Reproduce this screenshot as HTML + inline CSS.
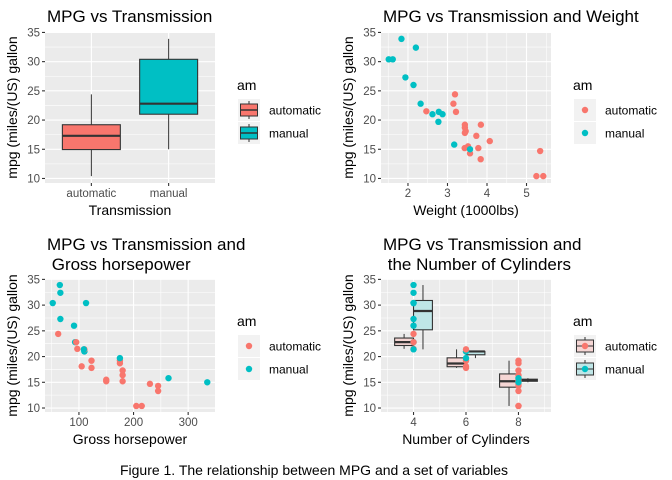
<!DOCTYPE html>
<html><head><meta charset="utf-8">
<style>
html,body{margin:0;padding:0;background:#fff;}
svg{display:block;font-family:"Liberation Sans",Arial,sans-serif;}
.tk{font-size:11.5px;fill:#4d4d4d;}
.at{font-size:14px;fill:#000;}
.tt{font-size:17px;fill:#000;white-space:pre;}
.lg{font-size:12px;fill:#000;}
</style></head>
<body>
<svg id="fig" width="672" height="480" viewBox="0 0 672 480" xmlns="http://www.w3.org/2000/svg">
<text x="314" y="475" text-anchor="middle" style="font-size:14px">Figure 1. The relationship between MPG and a set of variables</text>
</svg>
<script>
// mtcars data
const mpg = [21.0,21.0,22.8,21.4,18.7,18.1,14.3,24.4,22.8,19.2,17.8,16.4,17.3,15.2,10.4,10.4,14.7,32.4,30.4,33.9,21.5,15.5,15.2,13.3,19.2,27.3,26.0,30.4,15.8,19.7,15.0,21.4];
const cyl = [6,6,4,6,8,6,8,4,4,6,6,8,8,8,8,8,8,4,4,4,4,8,8,8,8,4,4,4,8,6,8,4];
const hp = [110,110,93,110,175,105,245,62,95,123,123,180,180,180,205,215,230,66,52,65,97,150,150,245,175,66,91,113,264,175,335,109];
const wt = [2.620,2.875,2.320,3.215,3.440,3.460,3.570,3.190,3.150,3.440,3.440,4.070,3.730,3.780,5.250,5.424,5.345,2.200,1.615,1.835,2.465,3.520,3.435,3.840,3.845,1.935,2.140,1.513,3.170,2.770,3.570,2.780];
const am = [1,1,1,0,0,0,0,0,0,0,0,0,0,0,0,0,0,1,1,1,0,0,0,0,0,1,1,1,1,1,1,1];
const amLabels = ["automatic","manual"];
const yTicks = [10,15,20,25,30,35];
const wtTicks = [2,3,4,5];
const hpTicks = [100,200,300];
const cylTicks = [4,6,8];

const NS="http://www.w3.org/2000/svg";
const svg=document.getElementById('fig');
const COL=["#F8766D","#00BFC4"], FILL4=["#F5D6D4","#BFE6E7"];
function el(tag,attrs,parent){const e=document.createElementNS(NS,tag);for(const k in attrs)e.setAttribute(k,attrs[k]);(parent||svg).appendChild(e);return e;}
function lin(d0,d1,r0,r1){return v=>r0+(v-d0)*(r1-r0)/(d1-d0);}
function q7(a,p){const s=[...a].sort((x,y)=>x-y);const h=(s.length-1)*p;const lo=Math.floor(h);const hi=Math.ceil(h);return s[lo]+(h-lo)*(s[hi]-s[lo]);}
function stats(a){const q1=q7(a,.25),m=q7(a,.5),q3=q7(a,.75),iqr=q3-q1;const inr=a.filter(v=>v>=q1-1.5*iqr&&v<=q3+1.5*iqr);return {q1,m,q3,lo:Math.min(...inr),hi:Math.max(...inr)};}

function panel(o){
  const g=el('g',{});
  
  
  const bg=el('rect',{x:o.x0,y:o.y0,width:o.x1-o.x0,height:o.y1-o.y0,fill:'#EBEBEB'},g);
  
  
  const Y=lin(o.yd[0],o.yd[1],o.y1,o.y0), X=o.X;
  for(let i=0;i<yTicks.length-1;i++){const v=(yTicks[i]+yTicks[i+1])/2;el('line',{x1:o.x0,x2:o.x1,y1:Y(v),y2:Y(v),stroke:'#fff','stroke-width':0.55},g);}
  if(o.xMinor) o.xMinor.forEach(v=>el('line',{x1:X(v),x2:X(v),y1:o.y0,y2:o.y1,stroke:'#fff','stroke-width':0.55},g));
  yTicks.forEach(v=>{el('line',{x1:o.x0,x2:o.x1,y1:Y(v),y2:Y(v),stroke:'#fff','stroke-width':1.1},g);
    el('line',{x1:o.x0-3,x2:o.x0,y1:Y(v),y2:Y(v),stroke:'#333','stroke-width':1.1},g);
    const t=el('text',{x:o.x0-5,y:Y(v)+4,'text-anchor':'end',class:'tk'},g);t.textContent=v;
    });
  o.xt.forEach((v,i)=>{const px=X(v);el('line',{x1:px,x2:px,y1:o.y0,y2:o.y1,stroke:'#fff','stroke-width':1.1},g);
    el('line',{x1:px,x2:px,y1:o.y1,y2:o.y1+3,stroke:'#333','stroke-width':1.1},g);
    const t=el('text',{x:px,y:o.y1+14,'text-anchor':'middle',class:'tk'},g);t.textContent=o.xl?o.xl[i]:v;
    });
  const xt=el('text',{x:(o.x0+o.x1)/2,y:o.y1+32,'text-anchor':'middle',class:'at'},g);xt.textContent=o.xtitle;
  
  const cy=(o.y0+o.y1)/2;
  const yt=el('text',{x:0,y:0,'text-anchor':'middle',class:'at',transform:`translate(${o.x0-28},${cy}) rotate(-90)`},g);yt.textContent='mpg (miles/(US) gallon';
  
  o.title.forEach((s,i)=>{const t=el('text',{x:o.x0+2,y:o.ty+i*20,class:'tt'},g);t.textContent=s;
    });
  const lx=o.x1+23, ly=o.ly;
  const lt=el('text',{x:lx-1,y:ly,class:'at'},g);lt.textContent='am';
  
  [0,1].forEach(k=>{const cyk=ly+20+k*23;
    const lg=el('g',{},g);
    el('rect',{x:lx,y:cyk-11,width:22,height:22,fill:'#F2F2F2'},lg);
    if(o.key==='box'){el('line',{x1:lx+11,x2:lx+11,y1:cyk-9,y2:cyk+9,stroke:'#333','stroke-width':1},lg);
      el('rect',{x:lx+2.5,y:cyk-6,width:17,height:12,fill:COL[k],stroke:'#333','stroke-width':1},lg);
      el('line',{x1:lx+2.5,x2:lx+19.5,y1:cyk,y2:cyk,stroke:'#333','stroke-width':1.5},lg);}
    else if(o.key==='box2'){el('line',{x1:lx+11,x2:lx+11,y1:cyk-9,y2:cyk+9,stroke:'#333','stroke-width':1},lg);
      el('rect',{x:lx+2.5,y:cyk-6,width:17,height:12,fill:FILL4[k],stroke:'#333','stroke-width':1},lg);
      el('line',{x1:lx+2.5,x2:lx+19.5,y1:cyk,y2:cyk,stroke:'#333','stroke-width':1},lg);
      el('circle',{cx:lx+11,cy:cyk,r:3.2,fill:COL[k]},lg);}
    else el('circle',{cx:lx+11,cy:cyk,r:3.2,fill:COL[k]},lg);
    const t=el('text',{x:lx+31,y:cyk+4.5,class:'lg'},lg);t.textContent=amLabels[k];});
  return {g,X,Y};
}
function box(g,Xc,x0,x1,s,fill,Y,name){
  const b=el('g',{},g);
  el('line',{x1:Xc,x2:Xc,y1:Y(s.hi),y2:Y(s.q3),stroke:'#333','stroke-width':1},b);
  el('line',{x1:Xc,x2:Xc,y1:Y(s.q1),y2:Y(s.lo),stroke:'#333','stroke-width':1},b);
  el('rect',{x:x0,y:Y(s.q3),width:x1-x0,height:Y(s.q1)-Y(s.q3),fill:fill,stroke:'#333','stroke-width':1.1},b);
  el('line',{x1:x0,x2:x1,y1:Y(s.m),y2:Y(s.m),stroke:'#333','stroke-width':2.2},b);
}
function pts(g,xs,X,Y,name){
  xs.forEach((xv,i)=>{const c=el('circle',{cx:X(xv),cy:Y(mpg[i]),r:3.2,fill:COL[am[i]]},g);
    });
}
const yd=[9.225,35.075];
{const X=lin(0.4,2.6,45,215);
 const p=panel({name:'panel-mpg-vs-transmission',x0:45,x1:215,y0:32,y1:183,yd,X,xt:[1,2],xl:amLabels,xtitle:'Transmission',title:['MPG vs Transmission'],ty:22,ly:90,key:'box'});
 [0,1].forEach(k=>{const a=mpg.filter((v,i)=>am[i]===k);const s=stats(a);box(p.g,X(k+1),X(k+0.625),X(k+1.375),s,COL[k],p.Y,'box-'+amLabels[k]);});}
{const lo=Math.min(...wt),hi=Math.max(...wt),pd=(hi-lo)*0.05;const X=lin(lo-pd,hi+pd,381,551);
 const p=panel({name:'panel-mpg-vs-weight',x0:381,x1:551,y0:32,y1:183,yd,X,xt:wtTicks,xMinor:[1.5,2.5,3.5,4.5,5.5],xtitle:'Weight (1000lbs)',title:['MPG vs Transmission and Weight'],ty:22,ly:90,key:'pt'});
 pts(p.g,wt,X,p.Y,'point-weight');}
{const lo=Math.min(...hp),hi=Math.max(...hp),pd=(hi-lo)*0.05;const X=lin(lo-pd,hi+pd,45,215);
 const p=panel({name:'panel-mpg-vs-horsepower',x0:45,x1:215,y0:279,y1:412,yd,X,xt:hpTicks,xMinor:[50,150,250],xtitle:'Gross horsepower',title:['MPG vs Transmission and',' Gross horsepower'],ty:250,ly:326,key:'pt'});
 pts(p.g,hp,X,p.Y,'point-horsepower');}
{const X=lin(2.76,9.24,381,551);
 const p=panel({name:'panel-mpg-vs-cylinders',x0:381,x1:551,y0:279,y1:412,yd,X,xt:cylTicks,xMinor:[3,5,7,9],xtitle:'Number of Cylinders',title:['MPG vs Transmission and',' the Number of Cylinders'],ty:250,ly:326,key:'box2'});
 cylTicks.forEach(c=>[0,1].forEach(k=>{const a=mpg.filter((v,i)=>am[i]===k&&cyl[i]===c);if(!a.length)return;const s=stats(a);
   const x0=k===0?c-0.72:c, x1=k===0?c:c+0.72;box(p.g,X((x0+x1)/2),X(x0),X(x1),s,FILL4[k],p.Y,'box-cyl'+c+'-'+amLabels[k]);}));
 pts(p.g,cyl,X,p.Y,'point-cylinders');}
</script>
</body></html>
